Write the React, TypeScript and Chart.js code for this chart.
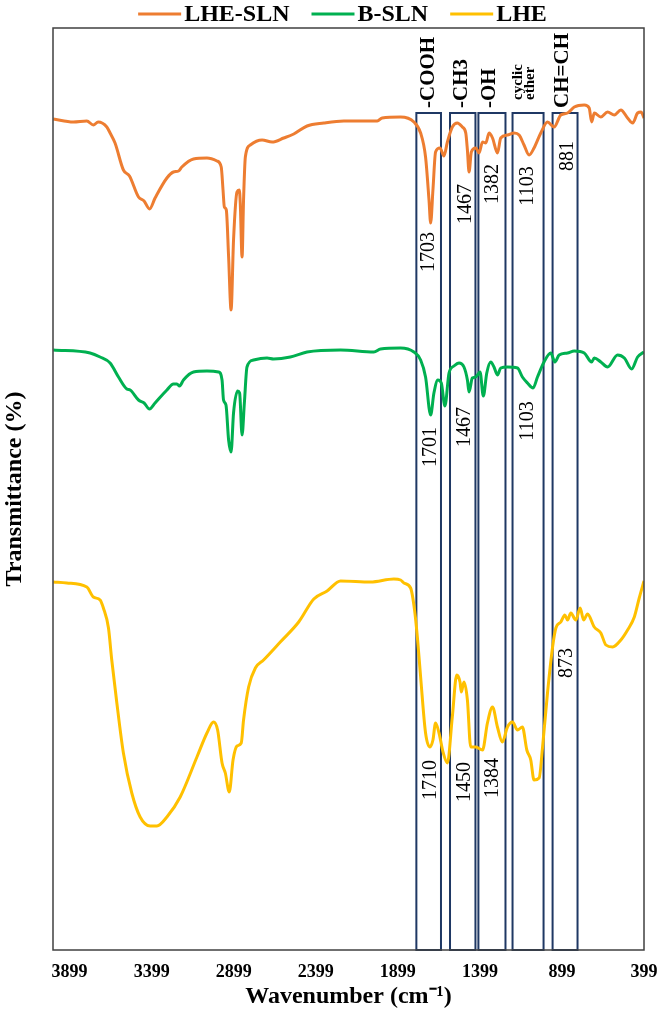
import { useEffect, useRef } from "react";
import { Chart, registerables } from "chart.js";

Chart.register(...registerables);

const SERIF = "'Liberation Serif', 'Times New Roman', serif";

// FTIR spectra: wavenumber (cm-1) and transmittance (arbitrary offset %)
const lheSlnWn = [3998,3876,3794,3754,3725,3672,3652,3622,3571,3534,3479,3445,3412,3378,3306,3266,3235,3215,3144,3062,3001,2975,2964,2956,2944,2930,2915,2900,2879,2865,2859,2848,2839,2828,2798,2726,2665,2594,2533,2452,2350,2228,2024,1994,1882,1801,1760,1730,1709,1699,1685,1669,1642,1618,1597,1567,1536,1506,1485,1475,1465,1451,1424,1404,1383,1363,1343,1322,1292,1272,1231,1191,1160,1130,1099,1069,1028,987,947,906,865,824,763,733,718,702,662,621,580,540,499,468,438,417,399];
const lheSlnT = [83.1,82.8,82.9,82.5,82.8,82.3,81.7,80.7,78.0,77.4,75.3,74.9,74.1,75.2,77.2,77.8,77.9,78.3,79.1,79.2,78.9,78.3,76.0,74.3,74.0,69.3,64.0,71.0,75.8,76.0,74.7,69.3,75.0,79.3,80.5,81.0,80.8,81.2,81.6,82.4,82.7,82.9,82.9,83.2,83.3,82.8,81.7,79.3,75.0,72.7,76.0,79.8,80.2,79.4,80.8,82.3,82.7,82.3,81.7,80.0,77.8,79.8,80.2,79.7,80.8,80.7,81.7,81.2,79.7,81.2,81.5,81.7,81.5,80.5,79.5,80.2,81.7,82.8,82.3,83.5,83.7,84.3,84.5,84.2,82.8,83.7,83.3,83.8,83.5,84.0,83.2,82.7,83.7,83.8,83.2];

const bSlnWn = [3998,3774,3713,3652,3601,3550,3530,3479,3445,3412,3378,3306,3266,3245,3229,3205,3144,3062,2991,2970,2961,2946,2930,2915,2900,2875,2863,2848,2834,2818,2778,2696,2656,2554,2452,2248,2045,2004,1882,1801,1760,1730,1699,1679,1655,1634,1612,1587,1557,1526,1496,1475,1465,1445,1424,1398,1378,1357,1333,1313,1292,1272,1231,1170,1140,1109,1075,1048,1008,967,942,916,865,824,763,718,702,662,621,560,519,474,438,399];
const bSlnT = [60.0,59.7,59.3,58.7,57.3,56.1,56.0,55.0,54.7,54.1,54.7,56.0,56.6,56.6,56.4,57.0,57.8,57.9,57.8,57.0,55.0,54.5,51.0,49.8,53.7,55.9,55.7,51.5,54.7,58.3,59.0,59.2,59.1,59.3,59.8,60.0,59.8,60.1,60.2,59.8,59.0,57.3,53.5,55.7,57.0,56.7,54.4,57.7,58.4,58.7,58.3,57.0,55.8,57.2,57.3,57.8,55.4,57.7,58.8,58.3,57.5,58.2,58.3,58.2,57.3,56.7,56.2,57.3,58.8,59.7,58.8,59.5,59.7,59.9,59.7,58.8,59.2,58.8,58.3,59.5,59.2,58.1,59.3,59.8];

const lheWn = [3998,3916,3794,3754,3713,3693,3662,3642,3611,3571,3520,3469,3408,3367,3306,3225,3123,3062,3022,2997,2970,2950,2926,2903,2879,2853,2839,2808,2767,2717,2615,2503,2411,2330,2248,2065,1923,1882,1862,1821,1797,1780,1760,1730,1703,1685,1669,1648,1622,1597,1567,1540,1520,1512,1496,1475,1455,1424,1383,1353,1322,1292,1262,1231,1200,1170,1140,1113,1089,1069,1038,1017,987,956,936,906,881,865,845,814,788,767,743,702,662,631,590,540,499,458,428,399];
const lheT = [36.8,36.7,36.3,35.3,35.0,34.2,32.2,29.0,24.7,19.7,15.7,13.3,12.4,12.4,13.3,15.3,19.3,21.7,22.8,22.0,18.7,17.7,15.8,19.0,20.4,20.7,23.0,26.3,28.2,29.0,30.8,32.8,35.1,35.9,36.9,36.8,37.1,37.0,36.7,36.2,34.0,31.3,27.3,21.7,20.3,21.0,22.7,21.7,19.7,18.7,23.3,27.5,26.8,25.8,26.8,25.0,20.3,20.3,20.0,22.7,24.3,22.3,20.8,22.3,22.8,22.0,22.3,20.0,19.0,17.0,17.2,20.3,25.7,30.3,32.2,32.8,33.5,33.0,33.7,33.0,34.2,33.0,33.6,32.3,31.7,30.5,30.3,31.0,32.0,33.3,35.2,36.9];

const seriesNames = ["LHE-SLN", "B-SLN", "LHE"];
const seriesColors = ["#ED7D31", "#00B050", "#FFC000"];

// axis
const xTicks = [3899, 3399, 2899, 2399, 1899, 1399, 899, 399];
const xMin = 399;
const xMax = 4000;
const yMin = 0;
const yMax = 92.2;

// functional-group regions (wavenumber range, top of box)
const regionHigh = [1786, 1581, 1408, 1200, 956];
const regionLow = [1636, 1426, 1243, 1011, 804];
const regionTop = 83.7;

// group names over the regions (multi-line entries split by "\n")
const groupNames = ["-COOH", "-CH3", "-OH", "cyclic\nether", "CH=CH"];
const groupX = [1711, 1510, 1339, 1130, 894];
const groupBase = 84.2;

// peak annotations
const peakText = ["1703", "1467", "1382", "1103", "881", "1701", "1467", "1103", "1710", "1450", "1384", "873"];
const peakX = [1710, 1485, 1321, 1107, 866, 1699, 1492, 1107, 1699, 1492, 1321, 869];
const peakY = [69.8, 74.6, 76.6, 76.4, 79.4, 50.3, 52.3, 52.9, 17.0, 16.8, 17.2, 28.7];

const pairs = (xs: number[], ys: number[]) => xs.map((x, i) => ({ x, y: ys[i] }));

function vText(ctx: CanvasRenderingContext2D, s: string, px: number, py: number, align: CanvasTextAlign) {
  ctx.save();
  ctx.translate(px, py);
  ctx.rotate(-Math.PI / 2);
  ctx.textAlign = align;
  ctx.textBaseline = "middle";
  ctx.fillText(s, 0, 0);
  ctx.restore();
}

const spectraDecor = {
  id: "spectraDecor",
  beforeDatasetsDraw(chart: any) {
    const { ctx, chartArea, scales } = chart;
    const x = scales.x;
    const y = scales.y;
    ctx.save();
    ctx.strokeStyle = "#1F3864";
    ctx.lineWidth = 2;
    for (let i = 0; i < regionHigh.length; i++) {
      const l = x.getPixelForValue(regionHigh[i]);
      const r = x.getPixelForValue(regionLow[i]);
      const t = y.getPixelForValue(regionTop);
      ctx.strokeRect(l, t, r - l, chartArea.bottom - t);
    }
    ctx.restore();
  },
  afterDatasetsDraw(chart: any) {
    const { ctx, chartArea, scales } = chart;
    const x = scales.x;
    const y = scales.y;
    ctx.save();
    // plot frame
    ctx.strokeStyle = "#404040";
    ctx.lineWidth = 1.5;
    ctx.strokeRect(chartArea.left, chartArea.top, chartArea.right - chartArea.left, chartArea.bottom - chartArea.top);

    // peak labels
    ctx.fillStyle = "#000";
    ctx.font = `20px ${SERIF}`;
    for (let i = 0; i < peakText.length; i++) {
      vText(ctx, peakText[i], x.getPixelForValue(peakX[i]), y.getPixelForValue(peakY[i]), "center");
    }

    // group labels
    const base = y.getPixelForValue(groupBase);
    for (let i = 0; i < groupNames.length; i++) {
      const lines = groupNames[i].split("\n");
      const cx = x.getPixelForValue(groupX[i]);
      if (lines.length === 1) {
        ctx.font = `bold 21px ${SERIF}`;
        vText(ctx, lines[0], cx, base, "left");
      } else {
        ctx.font = `bold 15px ${SERIF}`;
        const step = 11.5;
        lines.forEach((ln, k) => {
          vText(ctx, ln, cx + (k - (lines.length - 1) / 2) * step, base - 8, "left");
        });
      }
    }

    // legend
    ctx.font = `bold 24px ${SERIF}`;
    ctx.textBaseline = "middle";
    ctx.textAlign = "left";
    const lineLen = 43;
    const gap = 3;
    const itemGap = 22;
    const ds = chart.data.datasets;
    const widths = ds.map((d: any) => lineLen + gap + ctx.measureText(d.label).width);
    const total = widths.reduce((a: number, b: number) => a + b, 0) + itemGap * (ds.length - 1);
    let cx = 342.5 - total / 2;
    const ly = 14;
    ds.forEach((d: any, i: number) => {
      ctx.strokeStyle = d.borderColor;
      ctx.lineWidth = 3;
      ctx.beginPath();
      ctx.moveTo(cx, ly);
      ctx.lineTo(cx + lineLen, ly);
      ctx.stroke();
      ctx.fillStyle = "#000";
      ctx.fillText(d.label, cx + lineLen + gap, ly + 1);
      cx += widths[i] + itemGap;
    });
    ctx.restore();
  },
};

export default function App() {
  const canvasRef = useRef<HTMLCanvasElement | null>(null);

  useEffect(() => {
    const canvas = canvasRef.current;
    if (!canvas) return;
    const series = [pairs(lheSlnWn, lheSlnT), pairs(bSlnWn, bSlnT), pairs(lheWn, lheT)];
    const chart = new Chart(canvas, {
      type: "line",
      data: {
        datasets: series.map((data, i) => ({
          label: seriesNames[i],
          data,
          borderColor: seriesColors[i],
          backgroundColor: seriesColors[i],
          borderWidth: 3,
          pointRadius: 0,
          cubicInterpolationMode: "monotone",
          fill: false,
        })),
      },
      options: {
        animation: false,
        responsive: true,
        maintainAspectRatio: false,
        layout: { padding: { top: 28, right: 17, bottom: 5.6, left: 0 } },
        plugins: {
          legend: { display: false },
          tooltip: { enabled: false },
        },
        scales: {
          x: {
            type: "linear",
            reverse: true,
            min: xMin,
            max: xMax,
            afterBuildTicks: (scale: any) => {
              scale.ticks = xTicks.map((v) => ({ value: v }));
            },
            afterFit: (scale: any) => {
              scale.height = 61.4;
              scale.paddingLeft = 0;
              scale.paddingRight = 0;
            },
            ticks: {
              autoSkip: false,
              maxRotation: 0,
              padding: 12,
              color: "#000",
              font: { family: SERIF, size: 18, weight: "bold" },
              callback: (v: any) => String(v),
            },
            grid: { display: false, drawTicks: false, tickLength: 0 },
            border: { display: false },
            title: {
              display: true,
              text: "Wavenumber (cm\u207B\u00B9)",
              color: "#000",
              font: { family: SERIF, size: 24, weight: "bold" },
              padding: { top: 0, bottom: 0 },
            },
          },
          y: {
            type: "linear",
            min: yMin,
            max: yMax,
            afterFit: (scale: any) => {
              scale.width = 53;
            },
            ticks: { display: false },
            grid: { display: false, drawTicks: false, tickLength: 0 },
            border: { display: false },
            title: {
              display: true,
              text: "Transmittance (%)",
              color: "#000",
              font: { family: SERIF, size: 24, weight: "bold" },
              padding: { top: 0, bottom: 24.2 },
            },
          },
        },
      },
      plugins: [spectraDecor],
    });
    return () => chart.destroy();
  }, []);

  return (
    <div style={{ position: "absolute", left: 0, top: 0, width: 661, height: 1017, background: "#fff" }}>
      <canvas ref={canvasRef} />
    </div>
  );
}
